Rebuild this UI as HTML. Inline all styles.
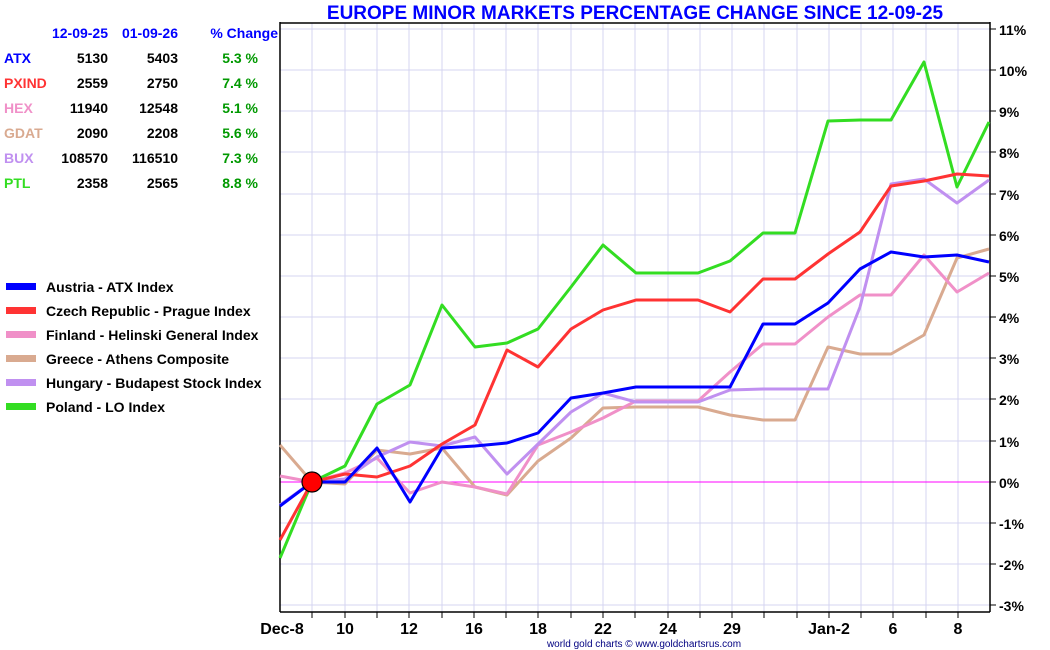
<!DOCTYPE html>
<html><head><meta charset="utf-8"><style>
html,body{margin:0;padding:0;background:#fff;}
svg{display:block;font-family:"Liberation Sans",Arial,sans-serif;}
</style></head><body>
<svg width="1050" height="650" viewBox="0 0 1050 650" xmlns="http://www.w3.org/2000/svg">
<rect width="1050" height="650" fill="#fff"/>
<g stroke="#d4d4f0" stroke-width="1">
<line x1="280" y1="29" x2="990" y2="29"/><line x1="280" y1="70" x2="990" y2="70"/><line x1="280" y1="111" x2="990" y2="111"/><line x1="280" y1="152" x2="990" y2="152"/><line x1="280" y1="194" x2="990" y2="194"/><line x1="280" y1="235" x2="990" y2="235"/><line x1="280" y1="276" x2="990" y2="276"/><line x1="280" y1="317" x2="990" y2="317"/><line x1="280" y1="358" x2="990" y2="358"/><line x1="280" y1="399" x2="990" y2="399"/><line x1="280" y1="441" x2="990" y2="441"/><line x1="280" y1="523" x2="990" y2="523"/><line x1="280" y1="564" x2="990" y2="564"/><line x1="280" y1="605" x2="990" y2="605"/>
<line x1="312" y1="23" x2="312" y2="612"/><line x1="345" y1="23" x2="345" y2="612"/><line x1="377" y1="23" x2="377" y2="612"/><line x1="409" y1="23" x2="409" y2="612"/><line x1="442" y1="23" x2="442" y2="612"/><line x1="474" y1="23" x2="474" y2="612"/><line x1="506" y1="23" x2="506" y2="612"/><line x1="538" y1="23" x2="538" y2="612"/><line x1="571" y1="23" x2="571" y2="612"/><line x1="603" y1="23" x2="603" y2="612"/><line x1="635" y1="23" x2="635" y2="612"/><line x1="668" y1="23" x2="668" y2="612"/><line x1="700" y1="23" x2="700" y2="612"/><line x1="732" y1="23" x2="732" y2="612"/><line x1="764" y1="23" x2="764" y2="612"/><line x1="797" y1="23" x2="797" y2="612"/><line x1="829" y1="23" x2="829" y2="612"/><line x1="861" y1="23" x2="861" y2="612"/><line x1="893" y1="23" x2="893" y2="612"/><line x1="926" y1="23" x2="926" y2="612"/><line x1="958" y1="23" x2="958" y2="612"/>
</g>
<line x1="280" y1="482" x2="990" y2="482" stroke="#ff00ff" stroke-width="1"/>
<g stroke="#000" stroke-width="1.5" fill="none">
<line x1="280" y1="23" x2="990" y2="23"/>
<line x1="280" y1="22" x2="280" y2="612"/>
<line x1="990" y1="22" x2="990" y2="612"/>
<line x1="280" y1="612" x2="990" y2="612"/>
</g>
<g stroke="#000" stroke-width="1">
<line x1="990" y1="29" x2="996" y2="29"/><line x1="990" y1="70" x2="996" y2="70"/><line x1="990" y1="111" x2="996" y2="111"/><line x1="990" y1="152" x2="996" y2="152"/><line x1="990" y1="194" x2="996" y2="194"/><line x1="990" y1="235" x2="996" y2="235"/><line x1="990" y1="276" x2="996" y2="276"/><line x1="990" y1="317" x2="996" y2="317"/><line x1="990" y1="358" x2="996" y2="358"/><line x1="990" y1="399" x2="996" y2="399"/><line x1="990" y1="441" x2="996" y2="441"/><line x1="990" y1="482" x2="996" y2="482"/><line x1="990" y1="523" x2="996" y2="523"/><line x1="990" y1="564" x2="996" y2="564"/><line x1="990" y1="605" x2="996" y2="605"/>
<line x1="312" y1="612" x2="312" y2="618"/><line x1="345" y1="612" x2="345" y2="618"/><line x1="377" y1="612" x2="377" y2="618"/><line x1="409" y1="612" x2="409" y2="618"/><line x1="442" y1="612" x2="442" y2="618"/><line x1="474" y1="612" x2="474" y2="618"/><line x1="506" y1="612" x2="506" y2="618"/><line x1="538" y1="612" x2="538" y2="618"/><line x1="571" y1="612" x2="571" y2="618"/><line x1="603" y1="612" x2="603" y2="618"/><line x1="635" y1="612" x2="635" y2="618"/><line x1="668" y1="612" x2="668" y2="618"/><line x1="700" y1="612" x2="700" y2="618"/><line x1="732" y1="612" x2="732" y2="618"/><line x1="764" y1="612" x2="764" y2="618"/><line x1="797" y1="612" x2="797" y2="618"/><line x1="829" y1="612" x2="829" y2="618"/><line x1="861" y1="612" x2="861" y2="618"/><line x1="893" y1="612" x2="893" y2="618"/><line x1="926" y1="612" x2="926" y2="618"/><line x1="958" y1="612" x2="958" y2="618"/>
</g>
<g font-size="14" font-weight="bold" fill="#000">
<text x="999" y="35">11%</text><text x="999" y="76">10%</text><text x="999" y="117">9%</text><text x="999" y="158">8%</text><text x="999" y="200">7%</text><text x="999" y="241">6%</text><text x="999" y="282">5%</text><text x="999" y="323">4%</text><text x="999" y="364">3%</text><text x="999" y="405">2%</text><text x="999" y="447">1%</text><text x="999" y="488">0%</text><text x="999" y="529">-1%</text><text x="999" y="570">-2%</text><text x="999" y="611">-3%</text>
</g>
<g font-size="16" font-weight="bold" fill="#000" text-anchor="middle">
<text x="282" y="634">Dec-8</text><text x="345" y="634">10</text><text x="409" y="634">12</text><text x="474" y="634">16</text><text x="538" y="634">18</text><text x="603" y="634">22</text><text x="668" y="634">24</text><text x="732" y="634">29</text><text x="829" y="634">Jan-2</text><text x="893" y="634">6</text><text x="958" y="634">8</text>
</g>
<text x="644" y="647" font-size="10" text-anchor="middle" fill="#000080">world gold charts © www.goldchartsrus.com</text>
<text x="635" y="19" font-size="19" font-weight="bold" fill="#0000ff" text-anchor="middle">EUROPE MINOR MARKETS PERCENTAGE CHANGE SINCE 12-09-25</text>
<g fill="none" stroke-width="3" stroke-linejoin="round">
<polyline stroke="#d9aa90" points="280,445 312,482 345,484 377,450 410,454 442,448 475,487 507,495 538,461 571,438 603,408 636,407 668,407 698,407 730,415 763,420 795,420 828,347 860,354 891,354 924,335 957,258 989,249"/>
<polyline stroke="#f090c8" points="280,476 312,482 345,473 377,458 410,493 442,482 475,487 507,494 538,445 571,432 603,418 636,401 668,401 698,401 730,372 763,344 795,344 828,317 860,295 891,295 924,255 957,292 989,273"/>
<polyline stroke="#c090f0" points="280,505 312,482 345,479 377,457 410,442 442,446 475,437 507,474 538,444 571,412 603,393 636,402 668,402 698,402 730,390 763,389 795,389 828,389 860,307 891,184 924,179 957,203 989,180"/>
<polyline stroke="#33dd22" points="280,558 312,482 345,466 377,404 410,385 442,305 475,347 507,343 538,329 571,287 603,245 636,273 668,273 698,273 730,261 763,233 795,233 828,121 860,120 891,120 924,62 957,187 989,122"/>
<polyline stroke="#ff3333" points="280,540 312,482 345,474 377,477 410,466 442,444 475,425 507,350 538,367 571,329 603,310 636,300 668,300 698,300 730,312 763,279 795,279 828,254 860,232 891,186 924,181 957,174 989,176"/>
<polyline stroke="#0000ff" points="280,506 312,482 345,482 377,448 410,502 442,448 475,446 507,443 538,433 571,398 603,393 636,387 668,387 698,387 730,387 763,324 795,324 828,303 860,269 891,252 924,257 957,255 989,262"/>
</g>
<circle cx="312" cy="482" r="10" fill="#ff0000" stroke="#000" stroke-width="1.2"/>
<g font-size="14" font-weight="bold">
<g fill="#0000ff" text-anchor="end"><text x="108" y="38">12-09-25</text><text x="178" y="38">01-09-26</text><text x="278" y="38">% Change</text></g>
<text x="4" y="63" fill="#0000ff">ATX</text><text x="4" y="88" fill="#ff3333">PXIND</text><text x="4" y="113" fill="#f090c8">HEX</text><text x="4" y="138" fill="#d9aa90">GDAT</text><text x="4" y="163" fill="#c090f0">BUX</text><text x="4" y="188" fill="#33dd22">PTL</text>
<g fill="#000" text-anchor="end">
<text x="108" y="63">5130</text><text x="178" y="63">5403</text>
<text x="108" y="88">2559</text><text x="178" y="88">2750</text>
<text x="108" y="113">11940</text><text x="178" y="113">12548</text>
<text x="108" y="138">2090</text><text x="178" y="138">2208</text>
<text x="108" y="163">108570</text><text x="178" y="163">116510</text>
<text x="108" y="188">2358</text><text x="178" y="188">2565</text>
</g>
<g fill="#009900" text-anchor="end">
<text x="258" y="63">5.3 %</text><text x="258" y="88">7.4 %</text><text x="258" y="113">5.1 %</text><text x="258" y="138">5.6 %</text><text x="258" y="163">7.3 %</text><text x="258" y="188">8.8 %</text>
</g>
</g>
<g font-size="14" font-weight="bold" fill="#000">
<rect x="6" y="283" width="30" height="7" fill="#0000ff"/><text x="46" y="292">Austria - ATX Index</text>
<rect x="6" y="307" width="30" height="7" fill="#ff3333"/><text x="46" y="316">Czech Republic - Prague Index</text>
<rect x="6" y="331" width="30" height="7" fill="#f090c8"/><text x="46" y="340">Finland - Helinski General Index</text>
<rect x="6" y="355" width="30" height="7" fill="#d9aa90"/><text x="46" y="364">Greece - Athens Composite</text>
<rect x="6" y="379" width="30" height="7" fill="#c090f0"/><text x="46" y="388">Hungary - Budapest Stock Index</text>
<rect x="6" y="403" width="30" height="7" fill="#33dd22"/><text x="46" y="412">Poland - LO Index</text>
</g>
</svg>
</body></html>
